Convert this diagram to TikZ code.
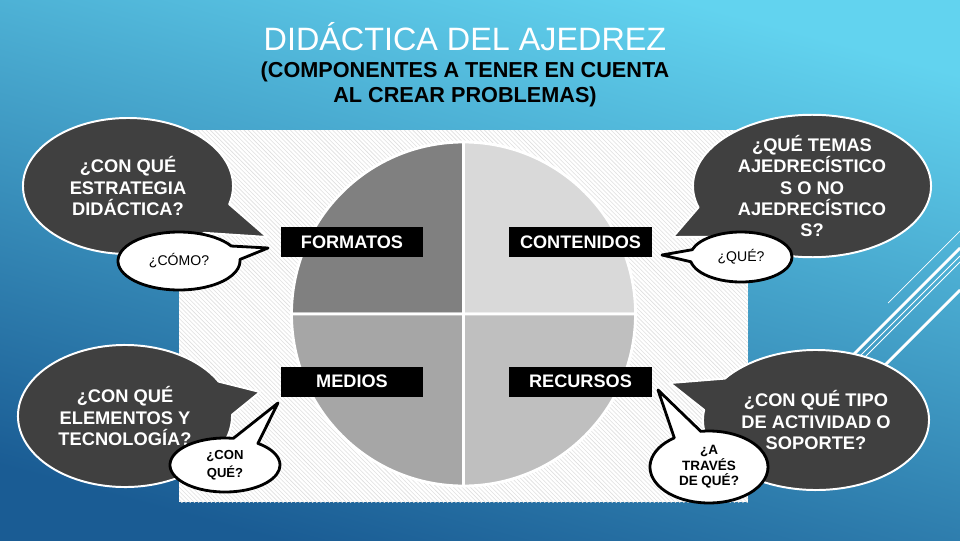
\documentclass[tikz,border=0pt]{standalone}
\usepackage{fontspec}
\setmainfont{Liberation Sans}
\usetikzlibrary{shapes.callouts,patterns}

\definecolor{cielo}{HTML}{62D3EF}
\definecolor{azulmedio}{HTML}{3AA0D1}
\definecolor{marino}{HTML}{1A5C94}
\definecolor{oscuro}{HTML}{404040}
\definecolor{grisA}{HTML}{808080}
\definecolor{grisB}{HTML}{D9D9D9}
\definecolor{grisC}{HTML}{A6A6A6}
\definecolor{grisD}{HTML}{BFBFBF}

\begin{document}
\begin{tikzpicture}[x=0.025cm, y=-0.025cm, line join=round]
  % Puntos de referencia (en píxeles de la diapositiva)
  \coordinate (Centro) at (463.5,314);
  \coordinate (PuntaEstrategia) at (267,237);
  \coordinate (PuntaComo) at (268,248);
  \coordinate (PuntaTemas) at (673,237);
  \coordinate (PuntaQue) at (662,255);
  \coordinate (PuntaElementos) at (260,392);
  \coordinate (PuntaConQue) at (278,403);
  \coordinate (PuntaActividad) at (670,383);
  \coordinate (PuntaTraves) at (658,390);

  % Estilos de etiquetas y bocadillos
  \tikzset{etiqueta/.style={fill=black, text=white, inner sep=0pt,
      minimum width=3.55cm, minimum height=0.75cm,
      font=\bfseries\fontsize{12.9}{15}\selectfont}}
  \tikzset{bocaoscuro/.style={ellipse callout, fill=oscuro, draw=white,
      line width=1.4pt, text=white, align=center, inner sep=0pt,
      callout pointer arc=28, font=\bfseries\fontsize{13}{15}\selectfont}}
  \tikzset{bocablanco/.style={ellipse callout, fill=white, draw=black,
      line width=2pt, text=black, align=center, inner sep=0pt,
      callout pointer arc=28}}

  \useasboundingbox (0,0) rectangle (960,540);

  % Fondo degradado
  \shade[top color=cielo, middle color=azulmedio, bottom color=marino,
    shading angle=-15] (0,0) rectangle (960,540);

  % Rayas decorativas
  \draw[white, line width=0.5pt] (888,303) -- (960,231);
  \draw[white, line width=2pt] (848,360) -- (960,248);
  \draw[white, line width=0.6pt] (856,360) -- (960,256);
  \draw[white, line width=0.6pt] (862,360) -- (960,262);
  \draw[white, line width=2pt] (878,372) -- (960,290);

  % Títulos
  \node[text=white, font=\fontsize{23}{27}\selectfont] (Titulo) at (465,37)
    {DIDÁCTICA DEL AJEDREZ};
  \node[text=black, align=center, font=\bfseries\fontsize{15.4}{17.8}\selectfont]
    (Subtitulo) at (465,84.5)
    {(COMPONENTES A TENER EN CUENTA\\AL CREAR PROBLEMAS)};

  % Panel rayado
  \fill[white] (179,130) rectangle (748,502);
  \fill[pattern=north west lines, pattern color=black!12] (179,130) rectangle (748,502);

  % Círculo en cuatro sectores
  \filldraw[fill=grisA, draw=white, line width=2pt] (Centro) -- ++(180:172)
    arc[start angle=180, end angle=270, radius=172] -- cycle;
  \filldraw[fill=grisB, draw=white, line width=2pt] (Centro) -- ++(270:172)
    arc[start angle=270, end angle=360, radius=172] -- cycle;
  \filldraw[fill=grisD, draw=white, line width=2pt] (Centro) -- ++(0:172)
    arc[start angle=0, end angle=90, radius=172] -- cycle;
  \filldraw[fill=grisC, draw=white, line width=2pt] (Centro) -- ++(90:172)
    arc[start angle=90, end angle=180, radius=172] -- cycle;

  % Etiquetas de los componentes
  \node[etiqueta] (Formatos) at (352,242) {FORMATOS};
  \node[etiqueta] (Contenidos) at (580.5,242) {CONTENIDOS};
  \node[etiqueta] (Medios) at (352,381.5) {MEDIOS};
  \node[etiqueta] (Recursos) at (580.5,381.5) {RECURSOS};

  % Bocadillos oscuros
  \node[bocaoscuro, minimum width=5.25cm, minimum height=3.4cm,
    callout absolute pointer=(PuntaEstrategia)] (Estrategia) at (128,186)
    {¿CON QUÉ\\ESTRATEGIA\\DIDÁCTICA?};
  \node[bocaoscuro, minimum width=5.95cm, minimum height=3.55cm,
    callout absolute pointer=(PuntaTemas)] (Temas) at (812,186)
    {¿QUÉ TEMAS\\AJEDRECÍSTICO\\S O NO\\AJEDRECÍSTICO\\S?};
  \node[bocaoscuro, minimum width=5.35cm, minimum height=3.55cm,
    callout absolute pointer=(PuntaElementos)] (Elementos) at (125,416)
    {¿CON QUÉ\\ELEMENTOS Y\\TECNOLOGÍA?};
  \node[bocaoscuro, minimum width=5.65cm, minimum height=3.5cm,
    callout absolute pointer=(PuntaActividad)] (Actividad) at (816,420)
    {¿CON QUÉ TIPO\\DE ACTIVIDAD O\\SOPORTE?};

  % Bocadillos blancos
  \node[bocablanco, minimum width=3.05cm, minimum height=1.45cm,
    font=\fontsize{10}{12}\selectfont,
    callout absolute pointer=(PuntaComo)] (Como) at (179,261) {¿CÓMO?};
  \node[bocablanco, minimum width=2.55cm, minimum height=1.25cm,
    font=\fontsize{10}{12}\selectfont,
    callout absolute pointer=(PuntaQue)] (Que) at (741,257) {¿QUÉ?};
  \node[bocablanco, minimum width=2.75cm, minimum height=1.35cm,
    font=\bfseries\fontsize{9.3}{12.5}\selectfont,
    callout absolute pointer=(PuntaConQue)] (ConQue) at (225,465) {¿CON\\QUÉ?};
  \node[bocablanco, minimum width=2.95cm, minimum height=1.8cm,
    font=\bfseries\fontsize{9.6}{11}\selectfont,
    callout absolute pointer=(PuntaTraves)] (Traves) at (709,467)
    {¿A\\TRAVÉS\\DE QUÉ?};
\end{tikzpicture}
\end{document}
